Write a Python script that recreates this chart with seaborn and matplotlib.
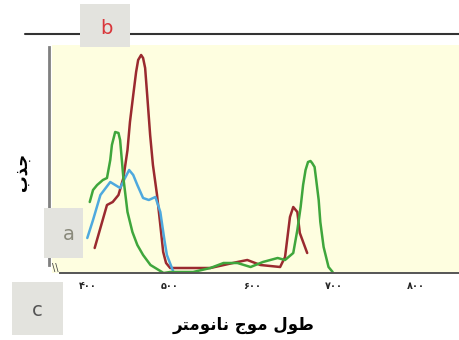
import pandas as pd
import seaborn as sns
import matplotlib.pyplot as plt
from matplotlib.patches import Rectangle

# spectra (wavelength in nm, absorbance in arbitrary units)
red_nm = [408, 423, 430, 437, 443, 448, 451, 455, 458.5, 461, 464.6, 467, 469.5, 472, 475.6, 479, 484, 488, 491.5, 495, 500,
          512, 549, 582, 594, 610, 634, 640, 646, 650, 655, 658, 667]
red_abs = [0.24, 0.67, 0.70, 0.77, 0.94, 1.22, 1.50, 1.77, 2.00, 2.12, 2.17, 2.14, 2.04, 1.77, 1.37, 1.07, 0.77, 0.47, 0.20, 0.09, 0.04,
           0.04, 0.04, 0.10, 0.12, 0.07, 0.05, 0.15, 0.55, 0.65, 0.60, 0.39, 0.19]

blue_nm = [399, 406, 415, 427, 439, 445, 450, 455, 460, 467, 474, 482, 488, 493, 496, 504]
blue_abs = [0.34, 0.52, 0.77, 0.90, 0.84, 0.94, 1.02, 0.97, 0.87, 0.74, 0.72, 0.75, 0.60, 0.32, 0.17, 0.0]

green_nm = [402, 406, 411, 418, 423, 427, 429, 433, 437, 439, 443, 448, 454, 460, 467, 476, 492, 500, 528, 549,
            565, 582, 598, 613, 631, 640, 650, 655, 659, 662, 665, 668, 671, 673, 676, 678, 681, 683, 687, 693, 698]
green_abs = [0.70, 0.82, 0.87, 0.92, 0.94, 1.12, 1.27, 1.40, 1.39, 1.32, 0.94, 0.60, 0.40, 0.27, 0.17, 0.07, -0.01, 0.0, 0.0, 0.04,
             0.09, 0.09, 0.05, 0.10, 0.14, 0.12, 0.19, 0.42, 0.65, 0.87, 1.02, 1.10, 1.11, 1.09, 1.05, 0.92, 0.72, 0.50, 0.25, 0.05, 0.0]

x_ticks = [400, 500, 600, 700, 800]
x_tick_labels = ['\u06f4\u06f0\u06f0', '\u06f5\u06f0\u06f0', '\u06f6\u06f0\u06f0', '\u06f7\u06f0\u06f0', '\u06f8\u06f0\u06f0']
# Persian text written in presentation forms, visual order (no shaping in matplotlib)
x_label = '\ufeae\ufe98\ufee3\ufeee\ufee7\ufe8e\ufee7 \ufe9d\ufeee\ufee3 \ufedd\ufeee\ufec3'
y_label = '\ufe8f\ufeac\ufe9f'

colors = {'red': '#9a2a2f', 'blue': '#4ea9de', 'green': '#3fa63c'}

df = pd.concat([
    pd.DataFrame({'nm': red_nm, 'abs': red_abs, 'series': 'red'}),
    pd.DataFrame({'nm': blue_nm, 'abs': blue_abs, 'series': 'blue'}),
    pd.DataFrame({'nm': green_nm, 'abs': green_abs, 'series': 'green'}),
])

sns.set_theme(style="white")
plt.rcParams['font.family'] = ['DejaVu Sans']

fig = plt.figure(figsize=(4.59, 3.40), dpi=100)
ax = fig.add_axes([52 / 459, (340 - 273) / 340, (459 - 52) / 459, (273 - 45) / 340])
ax.set_facecolor('#fefee0')

sns.lineplot(data=df, x='nm', y='abs', hue='series', palette=colors, estimator=None,
             sort=False, legend=False, linewidth=1.8, solid_joinstyle='round',
             solid_capstyle='round', ax=ax)

ax.set_xlim(356, 852)
ax.set_ylim(-0.01, 2.27)

for side in ['top', 'right']:
    ax.spines[side].set_visible(False)
ax.spines['bottom'].set_bounds(366, 852)
ax.spines['bottom'].set_color('#555555')
ax.spines['bottom'].set_linewidth(1.4)
ax.spines['left'].set_bounds(0.07, 2.25)
ax.spines['left'].set_color('#808080')
ax.spines['left'].set_linewidth(2)
ax.spines['left'].set_position(('outward', 2))

ax.set_xticks(x_ticks)
ax.set_xticklabels(x_tick_labels, fontsize=7, fontweight='bold')
ax.tick_params(axis='x', direction='in', length=4, width=1, color='#555555', pad=6)
ax.set_yticks([])
ax.set_xlabel('')
ax.set_ylabel('')

fig.text(244 / 459, 1 - 325 / 340, x_label, ha='center', va='center', fontsize=12, fontweight='bold', color='black')
fig.text(22 / 459, 1 - 172 / 340, y_label, ha='center', va='center', fontsize=12, fontweight='bold', rotation=90, color='black')

# top rule and the lettered boxes
fig.add_artist(plt.Line2D([25 / 459, 1], [1 - 34 / 340, 1 - 34 / 340], color='#333333', lw=1.5))
for x0, y0, x1, y1 in [(80, 4, 130, 47), (44, 208, 83, 258), (12, 282, 63, 335)]:
    fig.add_artist(Rectangle((x0 / 459, 1 - y1 / 340), (x1 - x0) / 459, (y1 - y0) / 340,
                             transform=fig.transFigure, facecolor='#e3e3de', edgecolor='none', zorder=2))
fig.text(106 / 459, 1 - 28 / 340, 'b', color='#d9363a', fontsize=14, ha='center', va='center', zorder=3)
fig.text(69 / 459, 1 - 235 / 340, 'a', color='#8a8a7c', fontsize=14, ha='center', va='center', zorder=3)
fig.text(37 / 459, 1 - 311 / 340, 'c', color='#555555', fontsize=14, ha='center', va='center', zorder=3)
fig.text(55 / 459, 1 - 268 / 340, '\\\\', color='#444444', fontsize=7, ha='center', va='center', zorder=3)

plt.savefig('out.png', dpi=100)
